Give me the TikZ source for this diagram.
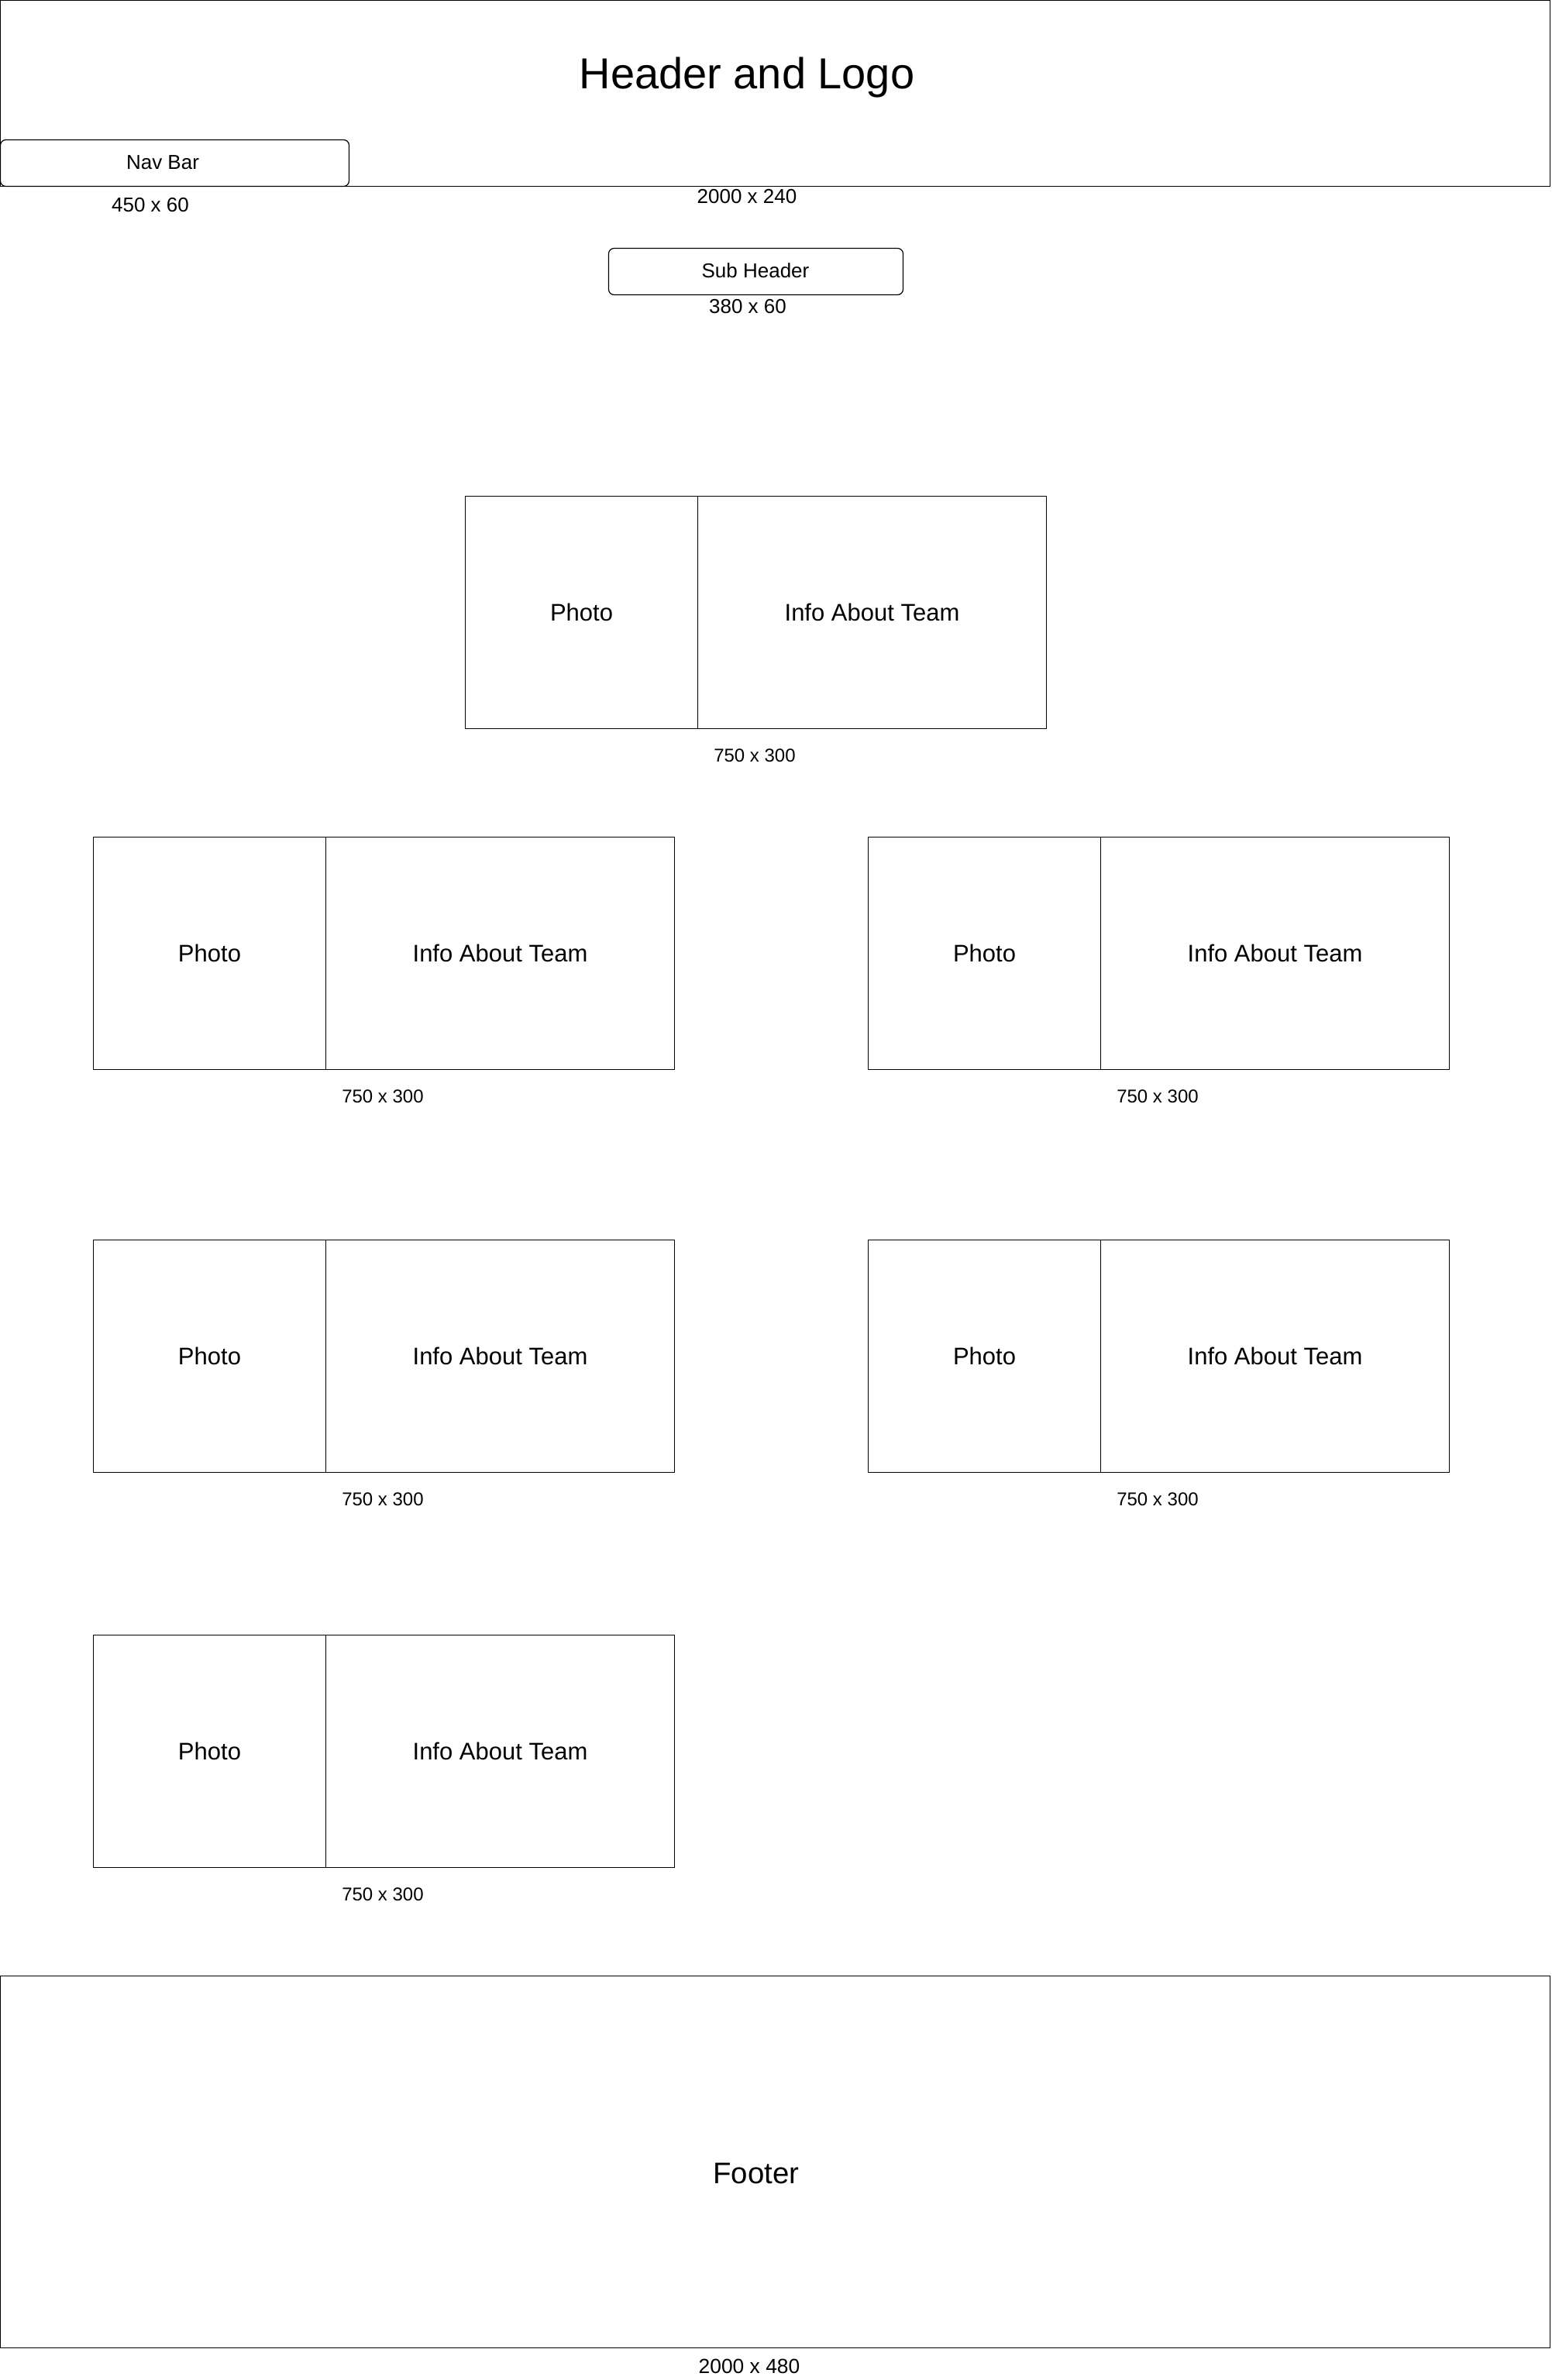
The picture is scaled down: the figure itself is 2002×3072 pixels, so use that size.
\documentclass[tikz,border=0pt]{standalone}
\usepackage{fontspec}
\setmainfont{Liberation Sans}
\begin{document}
\begin{tikzpicture}[x=0.25pt,y=-0.25pt,
  frame/.style={draw=black,line width=0.3pt,inner sep=0pt,outer sep=0pt},
  rbox/.style={frame,rounded corners=1.75pt},
  lbl/.style={anchor=base,inner sep=0pt,outer sep=0pt},
  cell/.style={frame,minimum height=75pt,font=\fontsize{7.75pt}{9pt}\selectfont,text height=5.55pt,text depth=0pt}]
\useasboundingbox (0,0) rectangle (2002,3072);
% header
\node[frame,minimum width=500pt,minimum height=60pt] (header) at (1000.5,120.5) {};
\node[lbl,font=\fontsize{14pt}{16pt}\selectfont] (headertext) at (964,115) {Header and Logo};
\node[lbl,font=\fontsize{6.5pt}{8pt}\selectfont] (headersize) at (964,263) {2000 x 240};
% nav bar
\node[rbox,minimum width=112.5pt,minimum height=15pt] (nav) at (225.5,210.5) {};
\node[lbl,font=\fontsize{6.5pt}{8pt}\selectfont] (navtext) at (210,219) {Nav Bar};
\node[lbl,font=\fontsize{6.5pt}{8pt}\selectfont] (navsize) at (194,274) {450 x 60};
% sub header
\node[rbox,minimum width=95pt,minimum height=15pt] (sub) at (975.5,350.5) {};
\node[lbl,font=\fontsize{6.5pt}{8pt}\selectfont] (subtext) at (975,358) {Sub Header};
\node[lbl,font=\fontsize{6.5pt}{8pt}\selectfont] (subsize) at (965,404) {380 x 60};
% team blocks
\foreach \i/\x/\y in {0/600/640,1/120/1080,2/1120/1080,3/120/1600,4/1120/1600,5/120/2110}{
  \node[cell,minimum width=75pt] (photo\i) at ({\x+150.5},{\y+150.5}) {Photo};
  \node[cell,minimum width=112.5pt] (info\i) at ({\x+525.5},{\y+150.5}) {Info About Team};
  \node[lbl,font=\fontsize{6pt}{7pt}\selectfont] (size\i) at ({\x+374},{\y+343}) {750 x 300};
}
% footer
\node[frame,minimum width=500pt,minimum height=120pt] (footer) at (1000.5,2790.5) {};
\node[lbl,font=\fontsize{9.6pt}{11pt}\selectfont] (footertext) at (976,2818) {Footer};
\node[lbl,font=\fontsize{6.6pt}{8pt}\selectfont] (footersize) at (967,3063) {2000 x 480};
\end{tikzpicture}
\end{document}
